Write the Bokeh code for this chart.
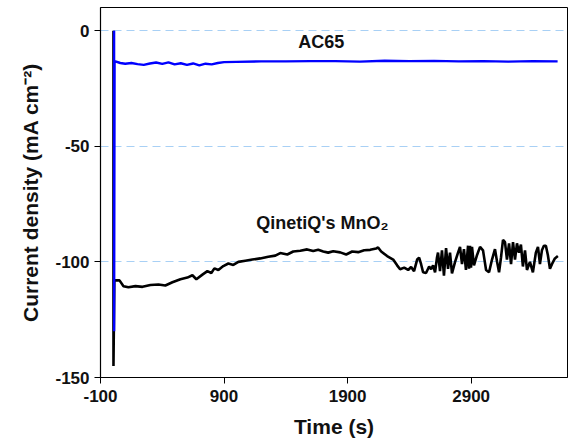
from bokeh.plotting import figure
from bokeh.models import FixedTicker
from bokeh.core.properties import value
from bokeh.embed import file_html
from bokeh.resources import INLINE

# ---- data ----
mno2_t = [5, 5, 12, 54, 86, 126, 183, 240, 304, 369, 425, 482, 547, 603, 644, 676, 725, 765, 797,
          822, 854, 894, 935, 975, 1016, 1072, 1129, 1193, 1258, 1315, 1355, 1412, 1460, 1517,
          1573, 1622, 1662, 1703, 1743, 1784, 1840, 1889, 1937, 1986, 2034, 2083, 2131, 2147,
          2172, 2220, 2269, 2301, 2325, 2358, 2390, 2414, 2438, 2463, 2479, 2495, 2511, 2535,
          2560, 2576, 2592, 2608, 2624, 2632, 2648, 2664, 2680, 2697, 2713, 2729, 2745, 2770,
          2794, 2810, 2826, 2842, 2858, 2875, 2883, 2891, 2899, 2907, 2923, 2948, 2972, 2996,
          3021, 3045, 3069, 3093, 3110, 3126, 3142, 3158, 3174, 3190, 3207, 3223, 3239, 3255,
          3271, 3287, 3303, 3319, 3336, 3352, 3376, 3400, 3424, 3441, 3457, 3473, 3489, 3505,
          3521, 3538, 3554, 3578, 3602]
mno2_j = [0, -145, -108, -108, -110.5, -111, -110.5, -110.8, -110, -109.8, -110.2, -108.8, -107.5,
          -106.8, -105.8, -107.5, -105.5, -104, -104.8, -102.8, -103.5, -101.8, -100.7, -101.3,
          -100, -99.5, -99, -98.5, -97.8, -97.3, -96.2, -96.8, -95.5, -95.2, -94.6, -95.3, -94.8,
          -95.5, -96, -95.4, -95.9, -96.8, -95.5, -95.8, -95, -94.8, -94.2, -93.8, -95.5, -97.5,
          -99, -101.5, -103.2, -102.5, -103.5, -102.2, -104, -99, -98.2, -101, -104.5, -104.8,
          -102, -103.2, -101.5, -104.5, -98, -96, -104, -95, -106, -94, -103, -96, -105, -100,
          -96, -93.5, -101, -94.5, -103.5, -93, -103, -93, -102.5, -93.5, -101.5, -97, -93.5,
          -95, -103.5, -104.5, -99, -94.5, -100, -104.5, -98, -90.5, -91.5, -99, -92, -101,
          -91.5, -99, -92, -96, -92.5, -102, -95, -103.5, -100, -104.5, -96, -93.5, -101, -95,
          -93, -93, -97, -103, -101, -98.5, -97.5]

ac65_t = [10, 10, 14, 60, 100, 150, 200, 250, 300, 350, 400, 450, 500, 550, 600, 650, 700, 750,
          800, 850, 900, 1000, 1200, 1400, 1600, 1800, 2000, 2200, 2400, 2600, 2800, 3000, 3200,
          3400, 3600]
ac65_j = [0, -130, -13.2, -14.0, -14.3, -14.0, -14.5, -14.8, -14.2, -13.8, -14.4, -13.7, -14.6,
          -14.1, -14.8, -14.2, -15.0, -14.3, -14.6, -14.0, -13.6, -13.5, -13.3, -13.3, -13.2,
          -13.2, -13.4, -13.0, -13.2, -13.1, -13.3, -13.2, -13.4, -13.2, -13.3]

x_ticks = [-100, 900, 1900, 2900]
x_tick_labels = ["-100", "900", "1900", "2900"]
y_ticks = [0, -50, -100, -150]
y_tick_labels = ["0", "-50", "-100", "-150"]
x_range = (-100, 3680)
y_range = (-150, 10)

labels_text = ["AC65", "QinetiQ's MnO\u2082"]
labels_x = [1500, 1161]
labels_y = [-4.9, -83]

FONT = "Liberation Sans"

p = figure(width=570, height=446, output_backend="svg", toolbar_location=None,
           x_range=x_range, y_range=y_range,
           min_border_left=100, min_border_right=3, min_border_top=7, min_border_bottom=69)

p.line(mno2_t, mno2_j, line_color="black", line_width=2.6)
p.line(ac65_t, ac65_j, line_color="#0000ff", line_width=2.4)

p.text(x=labels_x, y=labels_y, text=labels_text, text_font=value(FONT),
       text_font_style="bold", text_font_size="18px", text_color="#111111",
       text_baseline="alphabetic", text_align="left")

p.xgrid.visible = False
p.ygrid.grid_line_color = "#a8d0f5"
p.ygrid.grid_line_dash = "8 5"
p.ygrid.grid_line_width = 1

p.xaxis.ticker = FixedTicker(ticks=x_ticks)
p.yaxis.ticker = FixedTicker(ticks=y_ticks)
p.xaxis.major_label_overrides = {t: s for t, s in zip(x_ticks, x_tick_labels)}
p.yaxis.major_label_overrides = {t: s for t, s in zip(y_ticks, y_tick_labels)}

for ax in (p.xaxis[0], p.yaxis[0]):
    ax.axis_line_color = "black"
    ax.axis_line_width = 1.2
    ax.major_tick_line_color = "black"
    ax.major_tick_in = 0
    ax.major_tick_out = 6
    ax.minor_tick_line_color = None
    ax.major_label_text_font = FONT
    ax.major_label_text_font_style = "bold"
    ax.major_label_text_font_size = "17px"
    ax.major_label_text_color = "#111111"
    ax.axis_label_text_font = FONT
    ax.axis_label_text_font_style = "bold"
    ax.axis_label_text_font_size = "21px"
    ax.axis_label_text_color = "#111111"

p.xaxis.axis_label = "Time (s)"
p.yaxis.axis_label = "Current density (mA cm\u207b\u00b2)"
p.xaxis.major_label_standoff = 6
p.yaxis.major_label_standoff = 5
p.xaxis.axis_label_standoff = 10
p.yaxis.axis_label_standoff = 10

p.outline_line_color = "black"
p.outline_line_width = 1
p.background_fill_color = "white"
p.border_fill_color = "white"

open("out.html", "w").write(file_html(p, INLINE))
